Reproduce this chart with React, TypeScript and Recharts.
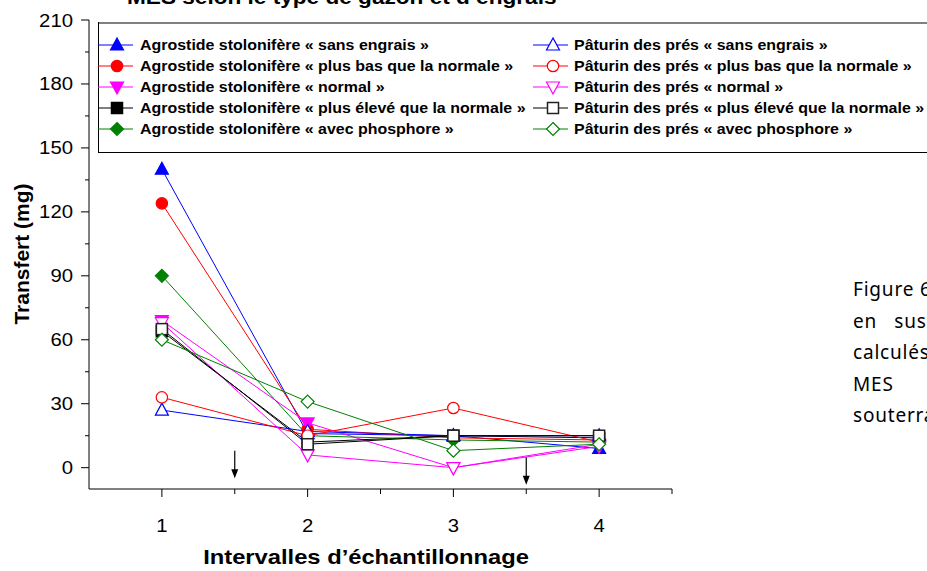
import React from 'react';
import { LineChart, Line, XAxis, YAxis, ReferenceLine } from 'recharts';

const intervals = [1, 2, 3, 4];

// Agrostide stolonifère (filled markers)
const agrostideSansEngrais = [140, 16, 15, 9];
const agrostidePlusBas = [124, 18, 14, 13];
const agrostideNormal = [69, 21, 0, 11];
const agrostidePlusEleve = [64, 12, 15, 14];
const agrostidePhosphore = [90, 15, 13, 12];

// Pâturin des prés (open markers)
const paturinSansEngrais = [27, 17, 15, 15];
const paturinPlusBas = [33, 15, 28, 12];
const paturinNormal = [68, 6, 0, 10];
const paturinPlusEleve = [65, 11, 15, 15];
const paturinPhosphore = [60, 31, 8, 11];

const yTicks = [0, 15, 30, 45, 60, 75, 90, 105, 120, 135, 150, 165, 180, 195, 210];
const xTicks = [1, 1.5, 2, 2.5, 3, 3.5, 4, 4.5];

// sampling arrows (x position, top, tip)
const arrowX = [1.5, 3.5];
const arrowTop = [8, 5];
const arrowTip = [-5, -8];

const FONT = '"Liberation Sans", Arial, sans-serif';
const STRETCH = 1.13; // the source picture is a bit wider than tall

type Shape = 'up' | 'circle' | 'down' | 'square' | 'diamond';

const series: { name: string; values: number[]; color: string; shape: Shape; filled: boolean }[] = [
  { name: 'Agrostide stolonifère « sans engrais »', values: agrostideSansEngrais, color: '#0000ff', shape: 'up', filled: true },
  { name: 'Agrostide stolonifère « plus bas que la normale »', values: agrostidePlusBas, color: '#ff0000', shape: 'circle', filled: true },
  { name: 'Agrostide stolonifère « normal »', values: agrostideNormal, color: '#ff00ff', shape: 'down', filled: true },
  { name: 'Agrostide stolonifère « plus élevé que la normale »', values: agrostidePlusEleve, color: '#000000', shape: 'square', filled: true },
  { name: 'Agrostide stolonifère « avec phosphore »', values: agrostidePhosphore, color: '#008000', shape: 'diamond', filled: true },
  { name: 'Pâturin des prés « sans engrais »', values: paturinSansEngrais, color: '#0000ff', shape: 'up', filled: false },
  { name: 'Pâturin des prés « plus bas que la normale »', values: paturinPlusBas, color: '#ff0000', shape: 'circle', filled: false },
  { name: 'Pâturin des prés « normal »', values: paturinNormal, color: '#ff00ff', shape: 'down', filled: false },
  { name: 'Pâturin des prés « plus élevé que la normale »', values: paturinPlusEleve, color: '#000000', shape: 'square', filled: false },
  { name: 'Pâturin des prés « avec phosphore »', values: paturinPhosphore, color: '#008000', shape: 'diamond', filled: false },
];

const data = intervals.map((x, i) => {
  const row: Record<string, number> = { x };
  series.forEach((s, k) => {
    row['s' + k] = s.values[i];
  });
  return row;
});

function Marker({ cx, cy, shape, color, filled }: { cx: number; cy: number; shape: Shape; color: string; filled: boolean }) {
  const fill = filled ? color : '#fff';
  const stroke = shape === 'square' && !filled ? '#222' : color;
  const sw = 1.2;
  switch (shape) {
    case 'up':
      return <polygon points={`${cx},${cy - 7} ${cx - 6.5},${cy + 5} ${cx + 6.5},${cy + 5}`} fill={fill} stroke={stroke} strokeWidth={sw} />;
    case 'down':
      return <polygon points={`${cx},${cy + 7} ${cx - 6.5},${cy - 5} ${cx + 6.5},${cy - 5}`} fill={fill} stroke={stroke} strokeWidth={sw} />;
    case 'circle':
      return <circle cx={cx} cy={cy} r={5.7} fill={fill} stroke={stroke} strokeWidth={sw} />;
    case 'square':
      return <rect x={cx - 5.5} y={cy - 5.5} width={11} height={11} fill={fill} stroke={stroke} strokeWidth={1.5} />;
    default:
      return <polygon points={`${cx},${cy - 6.5} ${cx + 6.5},${cy} ${cx},${cy + 6.5} ${cx - 6.5},${cy}`} fill={fill} stroke={stroke} strokeWidth={sw} />;
  }
}

const makeDot = (k: number) => (props: any) => {
  const { cx, cy, index } = props;
  const s = series[k];
  if (cx == null || cy == null) return <g key={`d${k}-${index}`} />;
  return (
    <g key={`d${k}-${index}`}>
      <Marker cx={cx} cy={cy} shape={s.shape} color={s.color} filled={s.filled} />
    </g>
  );
};

const Y_TICK = 8;
const Y_MARGIN = 6;
const YTick = (props: any) => {
  const { x, y, payload } = props;
  const axisX = x + Y_TICK + Y_MARGIN;
  const major = payload.value % 30 === 0;
  return (
    <g>
      <line x1={axisX} x2={axisX - (major ? 8 : 4)} y1={y} y2={y} stroke="#000" strokeWidth={1} />
      {major && (
        <text
          transform={`translate(${axisX - 16},${y + 6.5}) scale(${STRETCH},1)`}
          textAnchor="end"
          fontSize={18}
          fontFamily={FONT}
          fill="#000"
        >
          {payload.value}
        </text>
      )}
    </g>
  );
};

const X_TICK = 8;
const X_MARGIN = 4;
const XTick = (props: any) => {
  const { x, y, payload } = props;
  const axisY = y - X_TICK - X_MARGIN;
  const major = Number.isInteger(payload.value);
  return (
    <g>
      <line x1={x} x2={x} y1={axisY} y2={axisY + (major ? 8 : 5)} stroke="#000" strokeWidth={1} />
      {major && (
        <text
          transform={`translate(${x},${axisY + 43}) scale(${STRETCH},1)`}
          textAnchor="middle"
          fontSize={18}
          fontFamily={FONT}
          fill="#000"
        >
          {payload.value}
        </text>
      )}
    </g>
  );
};

const Arrow = (props: any) => {
  const { x1, y1, x2, y2 } = props;
  return (
    <g>
      <line x1={x1} y1={y1} x2={x2} y2={y2 - 8} stroke="#000" strokeWidth={1.2} />
      <polygon points={`${x2 - 3.5},${y2 - 9} ${x2 + 3.5},${y2 - 9} ${x2},${y2}`} fill="#000" />
    </g>
  );
};

function LegendBox() {
  const rows = [0, 1, 2, 3, 4];
  return (
    <svg width={840} height={132} style={{ position: 'absolute', left: 98, top: 22 }}>
      <rect x={0.5} y={1} width={860} height={130} fill="#fff" stroke="none" />
      <line x1={0} x2={840} y1={1} y2={1} stroke="#808080" strokeWidth={2} />
      <line x1={0.5} x2={0.5} y1={0} y2={131} stroke="#000" strokeWidth={1} />
      <line x1={0} x2={840} y1={130.5} y2={130.5} stroke="#000" strokeWidth={1} />
      {rows.map((r) => {
        const y = 23 + r * 21;
        const a = series[r];
        const p = series[r + 5];
        return (
          <g key={r}>
            <line x1={0} x2={35} y1={y} y2={y} stroke={a.color} strokeWidth={1} />
            <Marker cx={19} cy={y} shape={a.shape} color={a.color} filled={a.filled} />
            <text transform={`translate(42,${y + 5}) scale(1.14,1)`} fontSize={14} fontWeight="bold" fontFamily={FONT} fill="#000">
              {a.name}
            </text>
            <line x1={435} x2={470} y1={y} y2={y} stroke={p.color} strokeWidth={1} />
            <Marker cx={455} cy={y} shape={p.shape} color={p.color} filled={p.filled} />
            <text transform={`translate(476,${y + 5}) scale(1.14,1)`} fontSize={14} fontWeight="bold" fontFamily={FONT} fill="#000">
              {p.name}
            </text>
          </g>
        );
      })}
    </svg>
  );
}

const sideText = ['Figure 6 : Transfert', 'en   suspension', 'calculés', 'MES      provenant', 'souterraines'];

export default function App() {
  return (
    <div style={{ position: 'fixed', left: 0, top: 0, width: 927, height: 571, overflow: 'hidden', background: '#fff' }}>
      <LineChart width={927} height={571} data={data} margin={{ top: 20, right: 255, bottom: 0, left: 0 }}>
        <XAxis
          dataKey="x"
          type="number"
          domain={[0.5, 4.5]}
          ticks={xTicks}
          interval={0}
          height={82}
          tickSize={X_TICK}
          tickMargin={X_MARGIN}
          tickLine={false}
          tick={<XTick />}
          axisLine={{ stroke: '#000', strokeWidth: 1 }}
          allowDataOverflow
        />
        <YAxis
          type="number"
          domain={[-10, 210]}
          ticks={yTicks}
          interval={0}
          width={89}
          tickSize={Y_TICK}
          tickMargin={Y_MARGIN}
          tickLine={false}
          tick={<YTick />}
          axisLine={{ stroke: '#000', strokeWidth: 1 }}
          allowDataOverflow
        />
        {arrowX.map((ax, i) => (
          <ReferenceLine
            key={'arrow' + i}
            segment={[{ x: ax, y: arrowTop[i] }, { x: ax, y: arrowTip[i] }]}
            shape={<Arrow />}
          />
        ))}
        {series.map((s, k) => (
          <Line
            key={s.name}
            dataKey={'s' + k}
            name={s.name}
            type="linear"
            stroke={s.color}
            strokeWidth={1}
            dot={makeDot(k)}
            activeDot={false}
            isAnimationActive={false}
          />
        ))}
      </LineChart>
      <LegendBox />
      <div
        style={{
          position: 'absolute', left: 127, top: -14, fontFamily: FONT, fontWeight: 'bold', fontSize: 20, whiteSpace: 'nowrap',
          transform: `scaleX(${STRETCH})`, transformOrigin: 'left top',
        }}
      >
        MES selon le type de gazon et d’engrais
      </div>
      <div
        style={{
          position: 'absolute', left: 22, top: 254, transform: 'translate(-50%, -50%) rotate(-90deg)', transformOrigin: 'center',
          fontFamily: FONT, fontWeight: 'bold', fontSize: 21, whiteSpace: 'nowrap',
        }}
      >
        Transfert (mg)
      </div>
      <div
        style={{
          position: 'absolute', left: 366, top: 545, transform: `translateX(-50%) scaleX(${STRETCH})`,
          fontFamily: FONT, fontWeight: 'bold', fontSize: 21, whiteSpace: 'nowrap',
        }}
      >
        Intervalles d’échantillonnage
      </div>
      <div
        style={{
          position: 'absolute', left: 853, top: 274, fontFamily: '"Noto Sans", sans-serif', fontSize: 19, lineHeight: '31.5px',
          letterSpacing: 0.8, color: '#000', whiteSpace: 'pre',
        }}
      >
        {sideText.map((t) => (
          <div key={t}>{t}</div>
        ))}
      </div>
    </div>
  );
}
